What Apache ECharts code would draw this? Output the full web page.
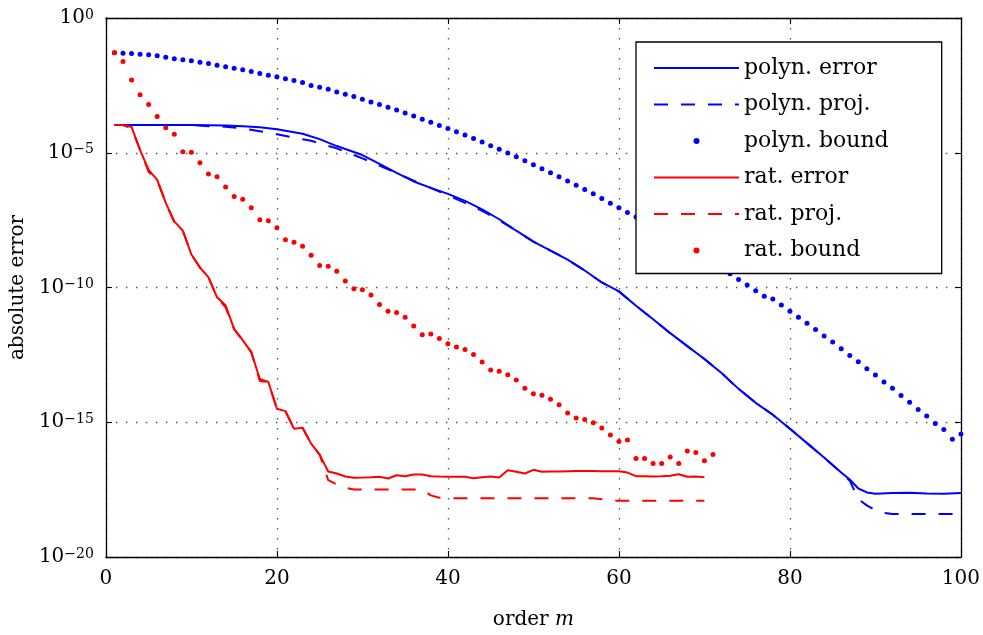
<!DOCTYPE html>
<html><head><meta charset="utf-8">
<script src="https://cdn.jsdelivr.net/npm/echarts@6/dist/echarts.min.js"></script>
<style>html,body{margin:0;padding:0;background:#fff}#c{width:983px;height:635px}</style>
</head><body><div id="c"></div><script>
// x ticks
const xTicks = [0, 20, 40, 60, 80, 100];
// y ticks (decades)
const yTicks = [1e-20, 1e-15, 1e-10, 1e-5, 1];

// polyn. error (solid blue): orders and values
const polynErrM = [1,5,10,12,14,16,18,20,22,23,25,27,30,32,34,36,38,40,42,44,46,48,50,52,54,56,58,60,62,64,66,68,70,72,74,76,78,80,82,84,86,87,88,89,90,92,94,96,98,100];
const polynErrV = [1.08e-4,1.08e-4,1.08e-4,1.05e-4,1.02e-4,9.7e-5,8.9e-5,7.5e-5,5.8e-5,5.1e-5,
  3.2e-5,1.77e-5,8.22e-6,3.83e-6,1.78e-6,8.6e-7,4.97e-7,2.99e-7,1.64e-7,7.98e-8,
  3.41e-8,1.28e-8,5.03e-9,2.34e-9,1.09e-9,4.28e-10,1.54e-10,7.18e-11,2.09e-11,6.64e-12,
  2.02e-12,6.68e-13,2.21e-13,6.73e-14,1.73e-14,5.25e-15,1.89e-15,5.75e-16,1.68e-16,4.89e-17,
  1.36e-17,7.52e-18,3.49e-18,2.49e-18,2.23e-18,2.35e-18,2.43e-18,2.29e-18,2.23e-18,2.35e-18];

// polyn. proj. (dashed blue)
const polynProjM = [1,10,12,14,16,18,20,22,24,27,30,33,36,39,42,44,46,48,50,52,54,56,58,60,62,64,66,68,70,72,74,76,78,80,82,84,86,87,88,89,90,91,92,96,100];
const polynProjV = [1.08e-4,1.08e-4,9.7e-5,9.3e-5,7.96e-5,6.3e-5,4.9e-5,3.64e-5,2.77e-5,1.45e-5,
  6.21e-6,2.44e-6,9.25e-7,3.63e-7,1.39e-7,7.03e-8,3.13e-8,1.28e-8,5.03e-9,2.34e-9,
  1.09e-9,4.28e-10,1.54e-10,7.18e-11,2.09e-11,6.64e-12,2.02e-12,6.68e-13,2.21e-13,6.73e-14,
  1.73e-14,5.25e-15,1.89e-15,5.75e-16,1.68e-16,4.89e-17,1.36e-17,6.8e-18,1.41e-18,8.26e-19,
  5.40e-19,4.29e-19,3.94e-19,3.94e-19,3.94e-19];

// polyn. bound (blue dots), m = 1..100
const polynBoundV = [5.1e-2,4.9e-2,4.8e-2,4.5e-2,4.3e-2,3.95e-2,3.5e-2,3.1e-2,2.8e-2,2.6e-2,
  2.3e-2,2.05e-2,1.78e-2,1.55e-2,1.38e-2,1.2e-2,1.04e-2,8.77e-3,7.59e-3,6.62e-3,
  5.58e-3,4.84e-3,4.01e-3,3.16e-3,2.67e-3,2.25e-3,1.79e-3,1.47e-3,1.21e-3,9.6e-4,
  7.64e-4,6.12e-4,4.88e-4,3.87e-4,3.0e-4,2.32e-4,1.75e-4,1.36e-4,1.03e-4,7.96e-5,
  5.96e-5,4.51e-5,3.40e-5,2.48e-5,1.81e-5,1.34e-5,9.75e-6,7.11e-6,5.07e-6,3.61e-6,
  2.56e-6,1.82e-6,1.30e-6,9.02e-7,6.25e-7,4.31e-7,2.99e-7,2.0e-7,1.35e-7,9.08e-8,
  6.08e-8,4.11e-8,2.76e-8,1.80e-8,1.13e-8,7.08e-9,4.63e-9,2.90e-9,1.82e-9,1.19e-9,
  7.76e-10,5.07e-10,3.24e-10,1.99e-10,1.23e-10,7.62e-11,4.69e-11,3.73e-11,2.24e-11,1.31e-11,
  7.87e-12,4.72e-12,2.77e-12,1.60e-12,9.40e-13,5.31e-13,3.03e-13,1.76e-13,9.70e-14,5.68e-14,
  3.13e-14,1.83e-14,9.77e-15,5.57e-15,2.97e-15,1.69e-15,9.04e-16,5.42e-16,2.32e-16,3.66e-16];

// rat. error (solid red), m = 1..70
const ratErrV = [1.08e-4,1.06e-4,9.1e-5,1.26e-5,2.3e-6,9.8e-7,1.39e-7,2.83e-8,1.28e-8,1.67e-9,
  5.52e-10,2.36e-10,4.31e-11,2.18e-11,2.84e-12,1.11e-12,4.01e-13,4.04e-14,3.13e-14,3.15e-15,
  2.59e-15,5.75e-16,6.26e-16,1.61e-16,6.31e-17,1.49e-17,1.25e-17,9.7e-18,8.69e-18,8.9e-18,
  9.16e-18,9.47e-18,8.19e-18,1.08e-17,9.96e-18,1.15e-17,1.15e-17,9.96e-18,9.7e-18,9.47e-18,
  9.47e-18,9.47e-18,8.39e-18,9.16e-18,9.7e-18,8.9e-18,1.66e-17,1.45e-17,1.25e-17,1.72e-17,
  1.45e-17,1.49e-17,1.49e-17,1.52e-17,1.55e-17,1.55e-17,1.55e-17,1.52e-17,1.51e-17,1.51e-17,
  1.36e-17,9.96e-18,9.96e-18,9.7e-18,9.96e-18,1.03e-17,1.18e-17,9.47e-18,9.7e-18,9.16e-18];

// rat. proj. (dashed red), m = 1..70
const ratProjV = [1.08e-4,1.06e-4,8.17e-5,1.3e-5,1.94e-6,9.8e-7,1.39e-7,2.6e-8,1.28e-8,1.67e-9,
  5.52e-10,2.36e-10,4.31e-11,1.84e-11,2.84e-12,1.11e-12,4.01e-13,3.41e-14,3.13e-14,3.15e-15,
  2.59e-15,5.75e-16,6.26e-16,1.61e-16,6.31e-17,7.1e-18,4.92e-18,3.66e-18,3.21e-18,3.21e-18,
  3.21e-18,3.21e-18,3.21e-18,3.21e-18,3.21e-18,3.21e-18,3.21e-18,1.93e-18,1.59e-18,1.51e-18,
  1.51e-18,1.51e-18,1.51e-18,1.51e-18,1.51e-18,1.51e-18,1.51e-18,1.51e-18,1.51e-18,1.51e-18,
  1.51e-18,1.51e-18,1.51e-18,1.51e-18,1.51e-18,1.51e-18,1.51e-18,1.39e-18,1.23e-18,1.23e-18,
  1.23e-18,1.23e-18,1.23e-18,1.23e-18,1.23e-18,1.23e-18,1.23e-18,1.23e-18,1.23e-18,1.23e-18];

// rat. bound (red dots), m = 1..71
const ratBoundV = [5.1e-2,2.43e-2,4.97e-3,1.43e-3,6.12e-4,2.21e-4,8.38e-5,4.91e-5,1.09e-5,1.04e-5,
  4.28e-6,1.63e-6,1.30e-6,5.41e-7,2.37e-7,1.90e-7,9.08e-8,3.27e-8,3.01e-8,1.66e-8,
  5.97e-9,4.74e-9,3.38e-9,1.57e-9,6.55e-10,6.17e-10,4.04e-10,1.75e-10,9.03e-11,8.30e-11,
  5.24e-11,2.32e-11,1.31e-11,1.17e-11,7.87e-12,3.76e-12,1.75e-12,1.90e-12,1.29e-12,8.13e-13,
  6.14e-13,5.05e-13,3.30e-13,1.71e-13,8.69e-14,7.78e-14,5.82e-14,3.71e-14,1.83e-14,1.13e-14,
  1.01e-14,7.19e-15,4.43e-15,2.19e-15,1.43e-15,1.27e-15,9.59e-16,6.11e-16,3.37e-16,1.95e-16,
  2.20e-16,4.49e-17,4.49e-17,2.93e-17,2.93e-17,5.19e-17,2.93e-17,8.65e-17,7.48e-17,3.69e-17,
  6.31e-17];

const legendNames = ['polyn. error','polyn. proj.','polyn. bound','rat. error','rat. proj.','rat. bound'];

const FONT = 'DejaVu Serif';
const BLUE = '#0000ff', RED = '#ff0000';
const pairs = (ms, vs) => vs.map((v, i) => [ms[i], v]);
const seq = (vs) => vs.map((v, i) => [i + 1, v]);

const dash = [14, 13];
const grid = {left: 105, right: 21, top: 17, bottom: 77.5};
const gridLine = {show: true, lineStyle: {color: '#555', width: 1.3, type: [1.5, 8.5]}};
const axLine = {show: true, onZero: false, lineStyle: {color: '#000', width: 1.3}};
const tick = {show: true, inside: true, length: 6, lineStyle: {color: '#000', width: 1.1}};
const hiddenDot = {opacity: 0};

const chart = echarts.init(document.getElementById('c'), null, {renderer: 'canvas'});
chart.setOption({
  animation: false,
  backgroundColor: '#fff',
  grid: grid,
  xAxis: [{
    type: 'value', min: 0, max: 100, interval: 20, position: 'bottom',
    axisLine: axLine, axisTick: tick, splitLine: gridLine,
    axisLabel: {fontFamily: FONT, fontSize: 20, color: '#000', margin: 12,
      formatter: v => xTicks.indexOf(v) >= 0 ? String(v) : ''},
    name: '{n|order }{i|m}', nameLocation: 'middle', nameGap: 53,
    nameTextStyle: {rich: {
      n: {fontFamily: FONT, fontSize: 20, color: '#000'},
      i: {fontFamily: FONT, fontSize: 20, fontStyle: 'italic', color: '#000'}
    }}
  }, {
    type: 'value', min: 0, max: 100, interval: 20, position: 'top',
    axisLine: axLine, axisTick: tick, splitLine: {show: false}, axisLabel: {show: false}
  }],
  yAxis: [{
    type: 'log', logBase: 10, min: 1e-20, max: 1, interval: 5,
    axisLine: axLine, axisTick: tick, splitLine: gridLine, minorTick: {show: false},
    axisLabel: {
      margin: 12, color: '#000',
      formatter: v => {
        const e = Math.round(Math.log10(v));
        if (!yTicks.some(t => Math.abs(Math.log10(t) - e) < 1e-6)) return '';
        return '{b|10}{s|' + (e < 0 ? '\u2212' + (-e) : String(e)) + '}';
      },
      rich: {
        b: {fontFamily: FONT, fontSize: 20, lineHeight: 20, color: '#000', verticalAlign: 'bottom', padding: [8, 0, 0, 0]},
        s: {fontFamily: FONT, fontSize: 14, lineHeight: 14, color: '#000', verticalAlign: 'top'}
      }
    },
    name: 'absolute error', nameLocation: 'middle', nameGap: 70,
    nameTextStyle: {fontFamily: FONT, fontSize: 20, color: '#000'}
  }, {
    type: 'log', logBase: 10, min: 1e-20, max: 1, interval: 5, position: 'right',
    axisLine: axLine, axisTick: tick, splitLine: {show: false}, axisLabel: {show: false}
  }],
  legend: {
    orient: 'vertical', left: 636, top: 42,
    itemWidth: 85, itemHeight: 6, itemGap: 14.5, itemTextGap: 13,
    padding: [15, 53, 12, 17],
    backgroundColor: '#fff', borderColor: '#000', borderWidth: 1.3, borderRadius: 0,
    textStyle: {fontFamily: FONT, fontSize: 22, color: '#000'},
    data: [
      {name: legendNames[0], itemStyle: hiddenDot},
      {name: legendNames[1], itemStyle: hiddenDot},
      {name: legendNames[2]},
      {name: legendNames[3], itemStyle: hiddenDot},
      {name: legendNames[4], itemStyle: hiddenDot},
      {name: legendNames[5]}
    ]
  },
  series: [
    {name: legendNames[0], type: 'line', data: pairs(polynErrM, polynErrV), symbol: 'none',
      lineStyle: {color: BLUE, width: 2}, itemStyle: {color: BLUE}},
    {name: legendNames[1], type: 'line', data: pairs(polynProjM, polynProjV), symbol: 'none',
      lineStyle: {color: BLUE, width: 2, type: dash}, itemStyle: {color: BLUE}},
    {name: legendNames[2], type: 'scatter', data: seq(polynBoundV), symbol: 'circle', symbolSize: 5,
      itemStyle: {color: BLUE, opacity: 1}},
    {name: legendNames[3], type: 'line', data: seq(ratErrV), symbol: 'none',
      lineStyle: {color: RED, width: 2}, itemStyle: {color: RED}},
    {name: legendNames[4], type: 'line', data: seq(ratProjV), symbol: 'none',
      lineStyle: {color: RED, width: 2, type: dash}, itemStyle: {color: RED}},
    {name: legendNames[5], type: 'scatter', data: seq(ratBoundV), symbol: 'circle', symbolSize: 5,
      itemStyle: {color: RED, opacity: 1}}
  ]
});
</script></body></html>
